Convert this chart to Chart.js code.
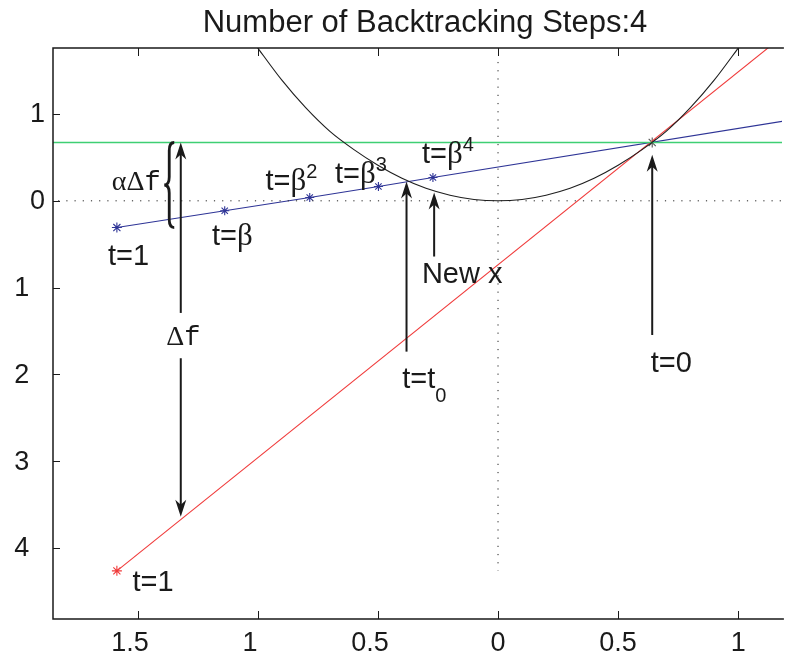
<!DOCTYPE html>
<html>
<head>
<meta charset="utf-8">
<script src="https://cdn.jsdelivr.net/npm/chart.js@4.4.1/dist/chart.umd.min.js"></script>
<style>
  html, body { margin: 0; padding: 0; background: #fff; }
  #wrap { width: 788px; height: 661px; }
</style>
</head>
<body>
<div id="wrap"><canvas id="c" width="788" height="661"></canvas></div>
<script>
// axis range (right edge is cut by the image)
var xMin = -1.853, xMax = 1.182;
var yMin = -4.819, yMax = 1.761;
var xTicks = [-1.5, -1, -0.5, 0, 0.5, 1];
var yTicks = [1, 0, -1, -2, -3, -4];
var titleText = "Number of Backtracking Steps:4";

// black function curve
var curveX = [-1.05, -1.0, -0.9, -0.8, -0.7, -0.6, -0.5, -0.4, -0.3, -0.2, -0.1, 0, 0.1, 0.2, 0.3, 0.4, 0.5, 0.6, 0.7, 0.8, 0.9, 1.0, 1.05];
var curveY = [1.95, 1.76, 1.39, 1.07, 0.80, 0.59, 0.41, 0.26, 0.145, 0.065, 0.016, 0, 0.016, 0.065, 0.145, 0.26, 0.41, 0.59, 0.80, 1.07, 1.39, 1.76, 1.95];

// starting point (t=0) and sufficient decrease level
var x0 = 0.642, f0 = 0.672;
// backtracking trial points t=1, beta, beta^2, beta^3, beta^4 (blue line)
var stepX = [-1.587, -1.138, -0.784, -0.498, -0.271];
var stepY = [-0.308, -0.115, 0.038, 0.165, 0.269];
var blueEndX = 1.2, blueEndY = 0.923;
// tangent line (red) endpoints
var redX = [-1.587, 1.2];
var redY = [-4.264, 1.93];
var greenX = [-1.9, 1.25];
// dotted zero lines
var zeroVX = [0, 0], zeroVY = [1.6, -4.264];
var zeroHX = [-1.9, 1.25], zeroHY = [0, 0];

// arrows: x, tail y, head y
var arrows = [
  [-1.321, -1.292, 0.672],
  [-1.321, -1.814, -3.641],
  [-0.381, -1.738, 0.223],
  [-0.266, -0.642, 0.096],
  [0.642, -1.546, 0.531]
];
// brace next to alpha*delta f: x, top y, bottom y
var brace = [-1.369, 0.672, -0.308];

var SANS = "Liberation Sans, Arial, Helvetica, sans-serif";
var SERIF = "Liberation Serif, Times New Roman, serif";
var MONO = "Liberation Mono, Courier New, monospace";
// labels: x, y (left/baseline), parts [text, font family, size, shift]
var labels = [
  [-1.624, -0.738, [["t=1", SANS, 29, 0]]],
  [-1.191, -0.508, [["t=", SANS, 29, 0], ["β", SERIF, 31, 0]]],
  [-0.968, 0.127, [["t=", SANS, 29, 0], ["β", SERIF, 31, 0], ["2", SANS, 20, -12]]],
  [-0.679, 0.204, [["t=", SANS, 29, 0], ["β", SERIF, 31, 0], ["3", SANS, 20, -12]]],
  [-0.317, 0.435, [["t=", SANS, 29, 0], ["β", SERIF, 31, 0], ["4", SANS, 20, -12]]],
  [-0.317, -0.946, [["New x", SANS, 29, 0]]],
  [-0.399, -2.157, [["t=t", SANS, 29, 0], ["0", SANS, 20, 14]]],
  [0.636, -1.969, [["t=0", SANS, 29, 0]]],
  [-1.522, -4.495, [["t=1", SANS, 29, 0]]],
  [-1.381, -1.661, [["Δ", SERIF, 28, 0], ["f", MONO, 27, 0]]],
  [-1.608, 0.119, [["αΔ", SERIF, 28, 0], ["f", MONO, 27, 0]]]
];

function pts(xs, ys) {
  return xs.map(function(x, i) { return { x: x, y: ys[i] }; });
}

var INK = "#1a1a1a";

var decorPlugin = {
  id: "decor",
  beforeDraw: function(chart) {
    var ctx = chart.ctx;
    ctx.save();
    ctx.fillStyle = "#fff";
    ctx.fillRect(0, 0, chart.width, chart.height);
    ctx.restore();
  },
  afterDatasetsDraw: function(chart) {
    var ctx = chart.ctx, a = chart.chartArea;
    var xs = chart.scales.x, ys = chart.scales.y;
    ctx.save();

    // frame (left, top, bottom) and inward ticks
    ctx.strokeStyle = INK;
    ctx.lineWidth = 1.5;
    ctx.beginPath();
    ctx.moveTo(a.right + 2, a.top); ctx.lineTo(a.left, a.top);
    ctx.lineTo(a.left, a.bottom); ctx.lineTo(a.right + 2, a.bottom);
    ctx.stroke();
    ctx.lineWidth = 1;
    ctx.beginPath();
    xTicks.forEach(function(v) {
      var px = Math.round(xs.getPixelForValue(v)) + 0.5;
      ctx.moveTo(px, a.bottom); ctx.lineTo(px, a.bottom - 8);
      ctx.moveTo(px, a.top); ctx.lineTo(px, a.top + 8);
    });
    yTicks.forEach(function(v) {
      var py = Math.round(ys.getPixelForValue(v)) + 0.5;
      ctx.moveTo(a.left, py); ctx.lineTo(a.left + 7, py);
    });
    ctx.stroke();

    // tick labels: minus sign is missing in the picture, text starts where it would be
    ctx.fillStyle = INK;
    ctx.font = "27px " + SANS;
    ctx.textBaseline = "middle";
    ctx.textAlign = "left";
    xTicks.forEach(function(v) {
      var full = (v < 0 ? "\u2212" : "") + String(Math.abs(v));
      var w = ctx.measureText(full).width;
      var px = xs.getPixelForValue(v);
      ctx.fillText(String(Math.abs(v)), px - w / 2, a.bottom + 25);
    });
    yTicks.forEach(function(v) {
      var full = (v < 0 ? "\u2212" : "") + String(Math.abs(v));
      var w = ctx.measureText(full).width;
      var py = ys.getPixelForValue(v);
      ctx.fillText(String(Math.abs(v)), a.left - 8 - w, py + 1);
    });

    // title
    ctx.font = "31px " + SANS;
    ctx.textAlign = "center";
    ctx.textBaseline = "alphabetic";
    ctx.fillText(titleText, 425, 32);

    // arrows
    ctx.strokeStyle = INK;
    ctx.fillStyle = INK;
    arrows.forEach(function(ar) {
      var px = xs.getPixelForValue(ar[0]);
      var pt = ys.getPixelForValue(ar[1]);
      var ph = ys.getPixelForValue(ar[2]);
      var dir = ph < pt ? -1 : 1;
      var L = 17, W = 5.5;
      ctx.lineWidth = 2;
      ctx.beginPath();
      ctx.moveTo(px, pt); ctx.lineTo(px, ph - dir * 10);
      ctx.stroke();
      ctx.beginPath();
      ctx.moveTo(px, ph);
      ctx.lineTo(px - W, ph - dir * L);
      ctx.lineTo(px, ph - dir * (L - 5));
      ctx.lineTo(px + W, ph - dir * L);
      ctx.closePath();
      ctx.fill();
    });

    // curly brace
    var bx = xs.getPixelForValue(brace[0]);
    var bt = ys.getPixelForValue(brace[1]);
    var bb = ys.getPixelForValue(brace[2]);
    var bm = (bt + bb) / 2;
    ctx.lineWidth = 2.8;
    ctx.beginPath();
    ctx.moveTo(bx + 5, bt);
    ctx.quadraticCurveTo(bx, bt, bx, bt + 8);
    ctx.lineTo(bx, bm - 8);
    ctx.quadraticCurveTo(bx, bm, bx - 5, bm);
    ctx.quadraticCurveTo(bx, bm, bx, bm + 8);
    ctx.lineTo(bx, bb - 8);
    ctx.quadraticCurveTo(bx, bb, bx + 5, bb);
    ctx.stroke();

    // text labels
    ctx.textAlign = "left";
    ctx.textBaseline = "alphabetic";
    labels.forEach(function(lb) {
      var cx = xs.getPixelForValue(lb[0]);
      var cy = ys.getPixelForValue(lb[1]);
      lb[2].forEach(function(p) {
        ctx.font = p[2] + "px " + p[1];
        ctx.fillText(p[0], cx, cy + p[3]);
        cx += ctx.measureText(p[0]).width;
      });
    });
    ctx.restore();
  }
};

new Chart(document.getElementById("c"), {
  type: "scatter",
  data: {
    datasets: [
      { data: pts(zeroHX, zeroHY), showLine: true, borderColor: "#222", borderWidth: 1,
        borderDash: [1.2, 7], pointRadius: 0 },
      { data: pts(zeroVX, zeroVY), showLine: true, borderColor: "#222", borderWidth: 1,
        borderDash: [1.2, 7], pointRadius: 0 },
      { data: pts(curveX, curveY), showLine: true, borderColor: "#1e1e1e", borderWidth: 1.1,
        cubicInterpolationMode: "monotone", pointRadius: 0 },
      { data: pts(greenX, [f0, f0]), showLine: true, borderColor: "#3fcf73", borderWidth: 1.6,
        pointRadius: 0 },
      { data: pts(redX, redY), showLine: true, borderColor: "#f03a3a", borderWidth: 1.1,
        pointRadius: [5, 0], pointStyle: "star", pointBorderColor: "#f03a3a", pointBorderWidth: 1.1 },
      { data: pts(stepX.concat([blueEndX]), stepY.concat([blueEndY])), showLine: true,
        borderColor: "#2e3496", borderWidth: 1.1,
        pointRadius: [5, 4.5, 4.5, 4.5, 4.5, 0], pointStyle: "star",
        pointBorderColor: "#2e3496", pointBorderWidth: 1.1 },
      { data: [{ x: x0, y: f0 }], showLine: false, pointRadius: 5, pointStyle: "star",
        pointBorderColor: "#555", pointBorderWidth: 1.1 }
    ]
  },
  options: {
    responsive: false,
    animation: false,
    devicePixelRatio: 1,
    layout: { padding: { left: 53, right: 0, top: 48, bottom: 42 } },
    scales: {
      x: { type: "linear", min: xMin, max: xMax, display: false },
      y: { type: "linear", min: yMin, max: yMax, display: false }
    },
    plugins: { legend: { display: false }, tooltip: { enabled: false }, title: { display: false } }
  },
  plugins: [decorPlugin]
});
</script>
</body>
</html>
